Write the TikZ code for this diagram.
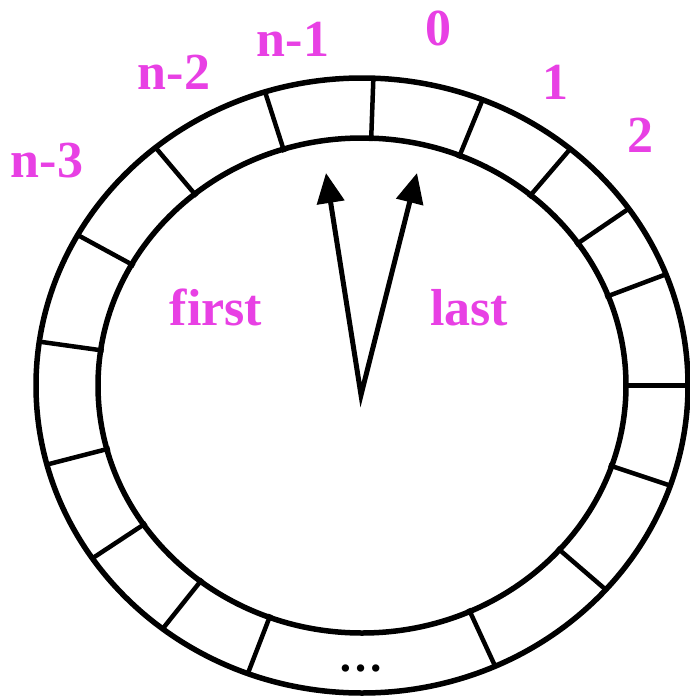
\documentclass[tikz,border=0pt]{standalone}
\usepackage{fontspec}
\setmainfont{Liberation Serif}
\usetikzlibrary{arrows.meta}
\definecolor{lblpink}{RGB}{232,64,228}
\tikzset{
  ring/.style={line width=5.5pt, draw=black},
  tick/.style={line width=4.5pt, draw=black},
  lbl/.style={text=lblpink, font=\fontsize{52}{60}\selectfont\bfseries, anchor=base, inner sep=0pt},
  ptr/.style={line width=5pt, draw=black, line join=miter,
    {Triangle[length=30pt,width=27pt]}-{Triangle[length=30pt,width=27pt]}}
}
\begin{document}
\begin{tikzpicture}[x=1pt,y=-1pt]
\useasboundingbox (0,0) rectangle (689,696);
% ring
\draw[ring] (362,385.5) ellipse [x radius=326pt, y radius=307.5pt];
\draw[ring] (362,385.5) ellipse [x radius=264pt, y radius=247.5pt];
\foreach \a in {88,68.3,50.3,35.1,21.2,0,-19,-41.6,-65.9,-110.5,-127.7,-145.8,-165.1,171.8,150.7,129.3,107.3}
  \draw[tick] ({362+261*cos(\a)},{385.5-244.5*sin(\a)}) -- ({362+326*cos(\a)},{385.5-307.5*sin(\a)});
% pointers
\coordinate (c) at (361,395);
\coordinate (tl) at (326,173);
\coordinate (tr) at (417,173);
\draw[ptr] (tl) -- (c) -- (tr);
% labels
\node[lbl] (l0) at (438,45) {0};
\node[lbl] (l1) at (555,99) {1};
\node[lbl] (l2) at (640,152) {2};
\node[lbl] (ln1) at (293,56) {n-1};
\node[lbl] (ln2) at (174,89) {n-2};
\node[lbl] (ln3) at (47,177) {n-3};
\node[lbl] (first) at (216,325) {first};
\node[lbl] (last) at (469,325) {last};
\node[anchor=base, inner sep=0pt, font=\fontsize{45}{50}\selectfont\bfseries] (dots) at (361,671) {…};
\end{tikzpicture}
\end{document}
